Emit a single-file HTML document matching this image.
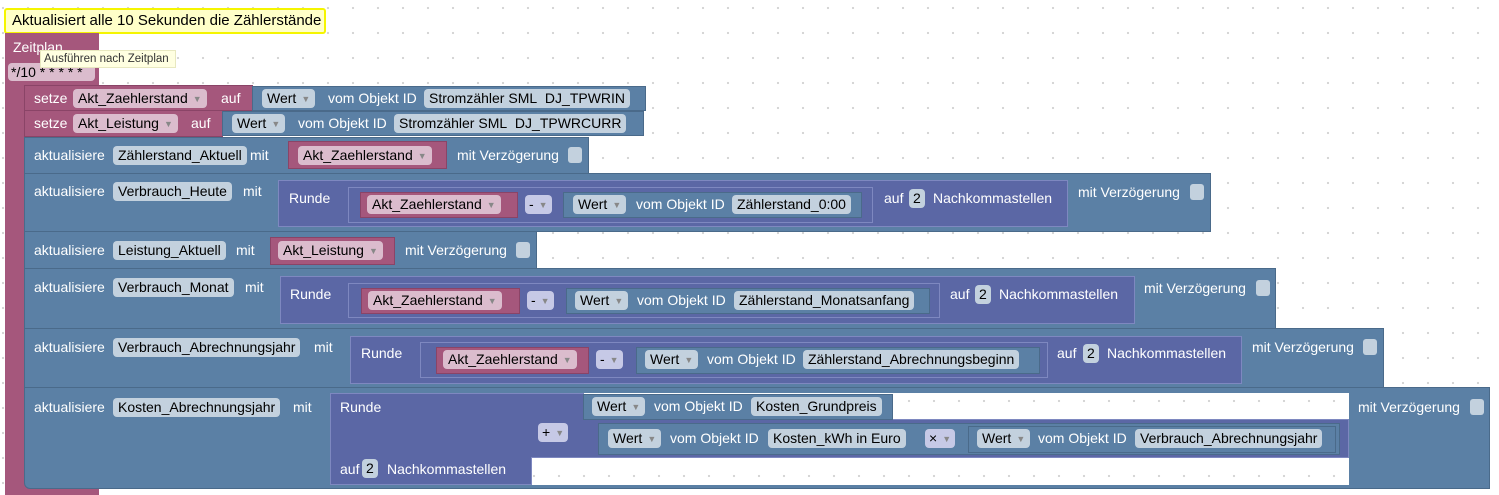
<!DOCTYPE html>
<html><head><meta charset="utf-8"><style>
body{margin:0;width:1499px;height:495px;overflow:hidden;position:relative;font-family:"Liberation Sans",Arial,sans-serif;font-size:14px;
background-color:#fff;background-image:radial-gradient(circle,#d4d4d4 1px,transparent 1.3px);background-size:25px 25px;background-position:-9.5px -4.5px}
div,span{position:absolute;box-sizing:border-box;white-space:nowrap}
span.ar{position:static;color:#888;font-size:9px;margin-left:5px;vertical-align:1px}
.pk{background:#a5577c;border:1px solid #8a4467}
.bl{background:#5b80a5;border:1px solid #4a6a8a}
.pu{background:#5b67a5;border:1px solid #7e88c0}
.t{color:#fff;line-height:18px;height:18px}
.p{height:19px;line-height:19px;border-radius:4px;padding:0 5px;color:#000}
.pp{background:#dbbccd}.pb{background:#c3d1de}.pv{background:#c6c9e6}
.cb{width:14px;height:16px;background:#c3d1de;border-radius:3px}
</style></head><body>
<!-- comment -->
<div style="left:4px;top:8px;width:322px;height:26px;background:#ffffc8;border:2px solid #f5f500;border-radius:3px"></div>
<span style="left:12px;top:11px;line-height:20px;font-size:15px;color:#000">Aktualisiert alle 10 Sekunden die Zählerstände</span>
<!-- zeitplan -->
<div style="left:5px;top:33px;width:94px;height:53px;background:#a5577c"></div>
<div style="left:5px;top:33px;width:20px;height:462px;background:#a5577c"></div>
<div style="left:5px;top:486px;width:94px;height:9px;background:#a5577c"></div>
<span class="t" style="left:13px;top:38px">Zeitplan</span>
<span class="p pp" style="left:8px;top:63px;width:87px;height:18px;line-height:18px;padding:0 3px">*/10 * * * * *</span>
<span style="left:40px;top:50px;width:136px;height:18px;background:#ffffe1;border:1px solid #e8e8c0;font-size:11.5px;line-height:16px;padding:0 3px;color:#333">Ausführen nach Zeitplan</span>

<!-- row1 -->
<div class="pk" style="left:24px;top:85px;width:229px;height:26px"></div>
<span class="t" style="left:34px;top:89px">setze</span>
<span class="p pp" style="left:73px;top:89px">Akt_Zaehlerstand<span class="ar">▼</span></span>
<span class="t" style="left:221px;top:89px">auf</span>
<div class="bl" style="left:252px;top:86px;width:394px;height:25px"></div>
<span class="p pb" style="left:262px;top:89px">Wert<span class="ar">▼</span></span>
<span class="t" style="left:328px;top:89px">vom Objekt ID</span>
<span class="p pb" style="left:424px;top:89px">Stromzähler SML&nbsp; DJ_TPWRIN</span>
<!-- row2 -->
<div class="pk" style="left:24px;top:110px;width:199px;height:27px"></div>
<span class="t" style="left:34px;top:114px">setze</span>
<span class="p pp" style="left:73px;top:114px">Akt_Leistung<span class="ar">▼</span></span>
<span class="t" style="left:191px;top:114px">auf</span>
<div class="bl" style="left:222px;top:111px;width:422px;height:25px"></div>
<span class="p pb" style="left:232px;top:114px">Wert<span class="ar">▼</span></span>
<span class="t" style="left:298px;top:114px">vom Objekt ID</span>
<span class="p pb" style="left:394px;top:114px">Stromzähler SML&nbsp; DJ_TPWRCURR</span>
<!-- row3 -->
<div class="bl" style="left:24px;top:137px;width:565px;height:37px"></div>
<span class="t" style="left:34px;top:146px">aktualisiere</span>
<span class="p pb" style="left:113px;top:146px">Zählerstand_Aktuell</span>
<span class="t" style="left:250px;top:146px">mit</span>
<div class="pk" style="left:288px;top:141px;width:159px;height:28px"></div>
<span class="p pp" style="left:298px;top:146px">Akt_Zaehlerstand<span class="ar">▼</span></span>
<span class="t" style="left:457px;top:146px">mit Verzögerung</span>
<div class="cb" style="left:568px;top:147px"></div>
<!-- row4 -->
<div class="bl" style="left:24px;top:173px;width:1187px;height:59px"></div>
<span class="t" style="left:34px;top:182px">aktualisiere</span>
<span class="p pb" style="left:113px;top:182px">Verbrauch_Heute</span>
<span class="t" style="left:243px;top:182px">mit</span>
<div class="pu" style="left:278px;top:180px;width:790px;height:47px"></div>
<span class="t" style="left:289px;top:189px">Runde</span>
<div class="pu" style="left:348px;top:187px;width:525px;height:36px"></div>
<div class="pk" style="left:360px;top:192px;width:158px;height:26px"></div>
<span class="p pp" style="left:367px;top:195px">Akt_Zaehlerstand<span class="ar">▼</span></span>
<span class="p pv" style="left:525px;top:195px;padding:0 4px">-<span class="ar">▼</span></span>
<div class="bl" style="left:563px;top:192px;width:299px;height:26px"></div>
<span class="p pb" style="left:573px;top:195px">Wert<span class="ar">▼</span></span>
<span class="t" style="left:636px;top:195px">vom Objekt ID</span>
<span class="p pb" style="left:732px;top:195px">Zählerstand_0:00</span>
<span class="t" style="left:884px;top:189px">auf</span>
<span class="p pb" style="left:909px;top:189px;padding:0 4px">2</span>
<span class="t" style="left:933px;top:189px">Nachkommastellen</span>
<span class="t" style="left:1078px;top:183px">mit Verzögerung</span>
<div class="cb" style="left:1190px;top:184px"></div>
<!-- row5 -->
<div class="bl" style="left:24px;top:231px;width:513px;height:38px"></div>
<span class="t" style="left:34px;top:241px">aktualisiere</span>
<span class="p pb" style="left:113px;top:241px">Leistung_Aktuell</span>
<span class="t" style="left:236px;top:241px">mit</span>
<div class="pk" style="left:270px;top:237px;width:125px;height:28px"></div>
<span class="p pp" style="left:278px;top:241px">Akt_Leistung<span class="ar">▼</span></span>
<span class="t" style="left:405px;top:241px">mit Verzögerung</span>
<div class="cb" style="left:516px;top:242px"></div>
<!-- row6 -->
<div class="bl" style="left:24px;top:268px;width:1252px;height:61px"></div>
<span class="t" style="left:34px;top:278px">aktualisiere</span>
<span class="p pb" style="left:113px;top:278px">Verbrauch_Monat</span>
<span class="t" style="left:245px;top:278px">mit</span>
<div class="pu" style="left:280px;top:276px;width:855px;height:48px"></div>
<span class="t" style="left:290px;top:285px">Runde</span>
<div class="pu" style="left:348px;top:283px;width:592px;height:35px"></div>
<div class="pk" style="left:361px;top:288px;width:159px;height:26px"></div>
<span class="p pp" style="left:368px;top:291px">Akt_Zaehlerstand<span class="ar">▼</span></span>
<span class="p pv" style="left:527px;top:291px;padding:0 4px">-<span class="ar">▼</span></span>
<div class="bl" style="left:566px;top:288px;width:364px;height:26px"></div>
<span class="p pb" style="left:575px;top:291px">Wert<span class="ar">▼</span></span>
<span class="t" style="left:637px;top:291px">vom Objekt ID</span>
<span class="p pb" style="left:734px;top:291px">Zählerstand_Monatsanfang</span>
<span class="t" style="left:950px;top:285px">auf</span>
<span class="p pb" style="left:975px;top:285px;padding:0 4px">2</span>
<span class="t" style="left:999px;top:285px">Nachkommastellen</span>
<span class="t" style="left:1144px;top:279px">mit Verzögerung</span>
<div class="cb" style="left:1256px;top:280px"></div>
<!-- row7 -->
<div class="bl" style="left:24px;top:328px;width:1360px;height:60px"></div>
<span class="t" style="left:34px;top:338px">aktualisiere</span>
<span class="p pb" style="left:113px;top:338px">Verbrauch_Abrechnungsjahr</span>
<span class="t" style="left:314px;top:338px">mit</span>
<div class="pu" style="left:350px;top:336px;width:892px;height:48px"></div>
<span class="t" style="left:361px;top:344px">Runde</span>
<div class="pu" style="left:420px;top:342px;width:628px;height:36px"></div>
<div class="pk" style="left:436px;top:347px;width:153px;height:27px"></div>
<span class="p pp" style="left:443px;top:350px">Akt_Zaehlerstand<span class="ar">▼</span></span>
<span class="p pv" style="left:596px;top:350px;padding:0 4px">-<span class="ar">▼</span></span>
<div class="bl" style="left:636px;top:347px;width:404px;height:27px"></div>
<span class="p pb" style="left:645px;top:350px">Wert<span class="ar">▼</span></span>
<span class="t" style="left:707px;top:350px">vom Objekt ID</span>
<span class="p pb" style="left:803px;top:350px">Zählerstand_Abrechnungsbeginn</span>
<span class="t" style="left:1057px;top:344px">auf</span>
<span class="p pb" style="left:1083px;top:344px;padding:0 4px">2</span>
<span class="t" style="left:1107px;top:344px">Nachkommastellen</span>
<span class="t" style="left:1252px;top:338px">mit Verzögerung</span>
<div class="cb" style="left:1363px;top:339px"></div>
<!-- row8 -->
<div class="bl" style="left:24px;top:387px;width:1466px;height:102px;border-radius:0 0 0 6px"></div>
<span class="t" style="left:34px;top:398px">aktualisiere</span>
<span class="p pb" style="left:113px;top:398px">Kosten_Abrechnungsjahr</span>
<span class="t" style="left:293px;top:398px">mit</span>
<div style="left:531px;top:393px;width:818px;height:92px;background-color:#fff;background-image:radial-gradient(circle,#d4d4d4 1px,transparent 1.3px);background-size:25px 25px;background-position:-9.5px -4.5px"></div>
<div class="pu" style="left:330px;top:393px;width:202px;height:92px"></div>
<span class="t" style="left:340px;top:398px">Runde</span>
<span class="t" style="left:340px;top:460px">auf</span>
<span class="p pb" style="left:362px;top:459px;padding:0 4px">2</span>
<span class="t" style="left:387px;top:460px">Nachkommastellen</span>
<div class="pu" style="left:531px;top:393px;width:53px;height:65px;border-left:none"></div>
<div class="pu" style="left:583px;top:419px;width:766px;height:39px;border-left:none"></div>
<span class="p pv" style="left:538px;top:423px;padding:0 4px">+<span class="ar">▼</span></span>
<div class="bl" style="left:583px;top:394px;width:310px;height:26px"></div>
<span class="p pb" style="left:592px;top:397px">Wert<span class="ar">▼</span></span>
<span class="t" style="left:654px;top:397px">vom Objekt ID</span>
<span class="p pb" style="left:751px;top:397px">Kosten_Grundpreis</span>
<div class="bl" style="left:598px;top:423px;width:742px;height:32px"></div>
<span class="p pb" style="left:608px;top:429px">Wert<span class="ar">▼</span></span>
<span class="t" style="left:670px;top:429px">vom Objekt ID</span>
<span class="p pb" style="left:768px;top:429px">Kosten_kWh in Euro</span>
<span class="p pv" style="left:925px;top:429px;padding:0 4px">×<span class="ar">▼</span></span>
<div class="bl" style="left:968px;top:426px;width:368px;height:27px"></div>
<span class="p pb" style="left:977px;top:429px">Wert<span class="ar">▼</span></span>
<span class="t" style="left:1038px;top:429px">vom Objekt ID</span>
<span class="p pb" style="left:1135px;top:429px">Verbrauch_Abrechnungsjahr</span>
<span class="t" style="left:1358px;top:398px">mit Verzögerung</span>
<div class="cb" style="left:1470px;top:399px"></div>
</body></html>
